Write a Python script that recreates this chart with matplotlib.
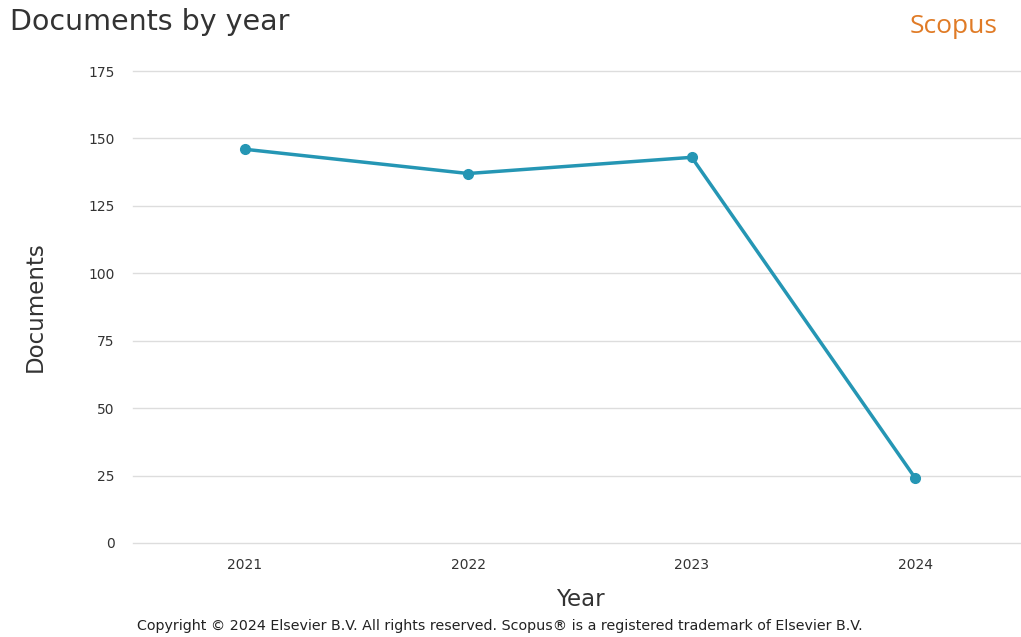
import matplotlib
matplotlib.use("Agg")
import matplotlib.pyplot as plt

years = [2021, 2022, 2023, 2024]
documents = [146, 137, 143, 24]
y_ticks = [0, 25, 50, 75, 100, 125, 150, 175]

fig = plt.figure(figsize=(10.21, 6.37), dpi=100)
ax = fig.add_axes([0.130, 0.1476, 0.876, 0.7409])

line_color = "#2596b4"
ax.plot(years, documents, color=line_color, linewidth=2.5, marker="o",
        markersize=7, zorder=3, clip_on=False)

ax.set_xlim(2020.5, 2024.5)
ax.set_ylim(0, 175)
ax.set_xticks(years)
ax.set_xticklabels([str(y) for y in years])
ax.set_yticks(y_ticks)
ax.grid(axis="y", color="#dddddd", linewidth=1)
ax.grid(axis="x", visible=False)
for g in ax.get_ygridlines():
    g.set_clip_on(False)
for s in ax.spines.values():
    s.set_visible(False)
ax.tick_params(axis="both", length=0, labelsize=10, colors="#333333")
ax.tick_params(axis="y", pad=13)
ax.tick_params(axis="x", pad=11)
ax.set_axisbelow(True)

ax.set_ylabel("Documents", fontsize=16.5, color="#333333", labelpad=30)
ax.set_xlabel("Year", fontsize=16.5, color="#333333", labelpad=11)

fig.text(0.010, 0.965, "Documents by year", fontsize=20.5, color="#333333",
         ha="left", va="center")
fig.text(0.977, 0.958, "Scopus", fontsize=19, color="#e07b26",
         ha="right", va="center", family="Open Sans")
fig.text(0.490, 0.017, "Copyright \u00a9 2024 Elsevier B.V. All rights reserved. "
         "Scopus\u00ae is a registered trademark of Elsevier B.V.",
         fontsize=10.3, color="#222222", ha="center", va="center")

fig.savefig("out.png", dpi=100)
